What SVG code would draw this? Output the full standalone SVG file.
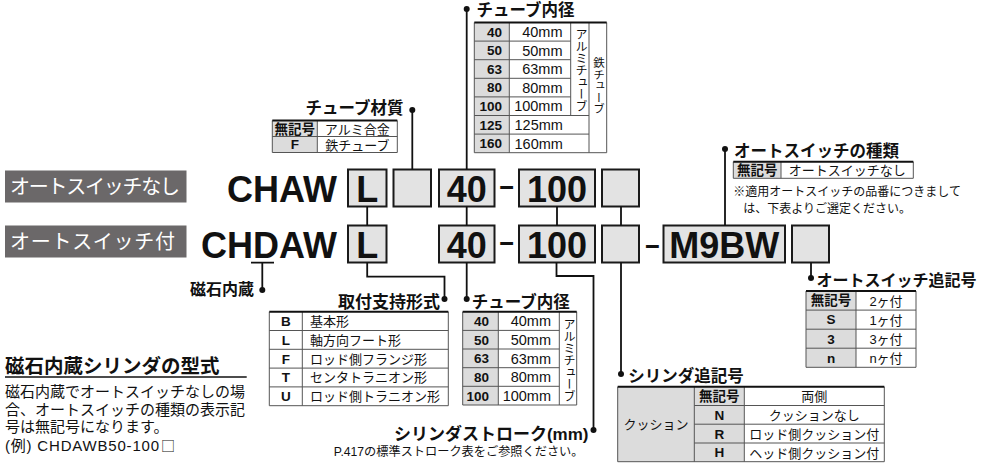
<svg xmlns="http://www.w3.org/2000/svg" width="985" height="464" viewBox="0 0 985 464">
<style>
text{font-family:"Liberation Sans","Noto Sans CJK JP",sans-serif;fill:#111}
.b{font-weight:bold}
.code{font-weight:bold;font-size:36px}
.ttl{font-weight:bold;font-size:16.5px}
.tc{font-weight:bold;font-size:13.5px}
.tv{font-size:13px}
.mm{font-size:14.5px}
.vt{writing-mode:vertical-rl;font-size:12px}
.box{fill:#e3e3e3;stroke:#1a1a1a;stroke-width:2}
.lbl{fill:#6b6869}
.wt{fill:#fff;font-size:20px}
.ln{fill:none;stroke:#111;stroke-width:1.8}
.th{stroke:#111;stroke-width:2}
.tl{stroke:#555;stroke-width:1;fill:none}
.g{fill:#dcdcdc}
.w{fill:#fff}
.dot{fill:#111}
.m{text-anchor:middle}
.e{text-anchor:end}
</style>

<!-- left labels -->
<g id="label-no-switch">
<rect class="lbl" x="5" y="170.5" width="181.5" height="32"/>
<text class="wt" x="10" y="193.8" textLength="170">オートスイッチなし</text>
</g>
<g id="label-with-switch">
<rect class="lbl" x="5" y="225.5" width="181.5" height="32"/>
<text class="wt" x="10" y="248.8" textLength="165">オートスイッチ付</text>
</g>

<!-- model codes -->
<g id="code-top">
<text class="code e" x="337" y="201.5">CHAW</text>
<rect class="box" x="348" y="169.5" width="38.5" height="37"/>
<text class="code m" x="367.2" y="201.5">L</text>
<rect class="box" x="393.5" y="169.5" width="37.5" height="37"/>
<rect class="box" x="439" y="169.5" width="55.5" height="37"/>
<text class="code m" x="466.7" y="201.5">40</text>
<text class="code m" transform="translate(506.7 194) scale(1.4 0.7)" x="0" y="0">-</text>
<rect class="box" x="519" y="169.5" width="76" height="37"/>
<text class="code m" x="557" y="201.5">100</text>
<rect class="box" x="602" y="169.5" width="37" height="37"/>
</g>
<g id="code-bottom">
<text class="code e" x="337" y="257.5">CHDAW</text>
<rect class="box" x="348" y="225.5" width="38.5" height="37"/>
<text class="code m" x="367.2" y="257.5">L</text>
<rect class="box" x="439" y="225.5" width="55.5" height="37"/>
<text class="code m" x="466.7" y="257.5">40</text>
<text class="code m" transform="translate(506.7 250) scale(1.4 0.7)" x="0" y="0">-</text>
<rect class="box" x="519" y="225.5" width="76" height="37"/>
<text class="code m" x="557" y="257.5">100</text>
<rect class="box" x="602" y="225.5" width="37" height="37"/>
<text class="code m" transform="translate(652.5 253) scale(1.4 0.7)" x="0" y="0">-</text>
<rect class="box" x="663.5" y="225.5" width="121.5" height="37"/>
<text class="code m" x="724.3" y="257.5">M9BW</text>
<rect class="box" x="792" y="225.5" width="37" height="37"/>
</g>

<!-- connectors -->
<g id="connectors">
<path class="ln" d="M412.3 110V169.5"/>
<path class="ln" d="M466.7 9V169.5"/>
<path class="ln" d="M367.2 206.5V225.5M466.7 206.5V225.5M557 206.5V225.5M621 206.5V225.5"/>
<path class="ln" d="M725 149V225.5"/>
<path class="ln" d="M811 262.5V278"/>
<path class="ln" d="M367.2 262.5V276.7H444.5V299"/>
<path class="ln" d="M466.7 262.5V299"/>
<path class="ln" d="M556.5 262.5V276H593.5V430"/>
<path class="ln" d="M621 262.5V374"/>
<path class="ln" d="M251 262.7H274M262.3 262.7V290"/>
<circle class="dot" cx="412.3" cy="110" r="3"/>
<circle class="dot" cx="466.7" cy="9" r="3"/>
<circle class="dot" cx="725" cy="149" r="3"/>
<circle class="dot" cx="811" cy="278" r="3"/>
<circle class="dot" cx="444.5" cy="299" r="3"/>
<circle class="dot" cx="466.7" cy="299" r="3"/>
<circle class="dot" cx="593.5" cy="430" r="3"/>
<circle class="dot" cx="621" cy="374" r="3"/>
<circle class="dot" cx="262.3" cy="290" r="3"/>
</g>

<!-- tube material -->
<g id="tube-material">
<text class="ttl e" x="403.5" y="113.8">チューブ材質</text>
<rect class="g" x="272.3" y="120.5" width="45" height="32"/>
<rect class="w" x="317.3" y="120.5" width="80" height="32"/>
<path class="tl" d="M272.3 120.5V152.5H397.3V120.5M272.3 136.5H397.3M317.3 120.5V152.5"/>
<path class="th" d="M272.3 120.5H397.3"/>
<text class="tc m" x="294.8" y="133.5">無記号</text>
<text class="tv m" x="357.3" y="133.5">アルミ合金</text>
<text class="tc m" x="294.8" y="149.3">F</text>
<text class="tv m" x="357.3" y="149.5">鉄チューブ</text>
</g>

<!-- tube bore (top) -->
<g id="tube-bore-top">
<text class="ttl" x="476.5" y="16">チューブ内径</text>
<rect class="g" x="474.3" y="22.5" width="35" height="130.2"/>
<rect class="w" x="509.3" y="22.5" width="97.4" height="130.2"/>
<path class="tl" d="M474.3 22.5V152.7H606.7V22.5M474.3 41.1H570.7M474.3 59.7H570.7M474.3 78.3H570.7M474.3 96.9H570.7M474.3 115.5H589M474.3 134.1H589M509.3 22.5V152.7M570.7 22.5V115.5M589 22.5V152.7"/>
<path class="th" d="M474.3 22.5H606.7"/>
<text class="tc e" x="502" y="36.6">40</text>
<text class="tc e" x="502" y="55.2">50</text>
<text class="tc e" x="502" y="73.8">63</text>
<text class="tc e" x="502" y="92.4">80</text>
<text class="tc e" x="502" y="111">100</text>
<text class="tc e" x="502" y="129.6">125</text>
<text class="tc e" x="502" y="148.2">160</text>
<text class="mm e" x="562.5" y="37">40mm</text>
<text class="mm e" x="562.5" y="55.6">50mm</text>
<text class="mm e" x="562.5" y="74.2">63mm</text>
<text class="mm e" x="562.5" y="92.8">80mm</text>
<text class="mm e" x="562.5" y="111.4">100mm</text>
<text class="mm" x="514.5" y="130">125mm</text>
<text class="mm" x="514.5" y="148.6">160mm</text>
<text class="vt" x="580" y="28">アルミチューブ</text>
<text class="vt" x="598" y="57" style="font-size:11.5px">鉄チューブ</text>
</g>

<!-- auto switch type -->
<g id="switch-type">
<text class="ttl" x="734" y="156.5">オートスイッチの種類</text>
<rect class="g" x="733.3" y="161.7" width="47.7" height="16.6"/>
<rect class="w" x="781" y="161.7" width="132.3" height="16.6"/>
<path class="tl" d="M733.3 161.7V178.3H913.3V161.7M781 161.7V178.3"/>
<path class="th" d="M733.3 161.7H913.3"/>
<text class="tc m" x="757.2" y="175">無記号</text>
<text class="tv m" x="847.2" y="175">オートスイッチなし</text>
<text x="733.3" y="196.3" style="font-size:12px">※適用オートスイッチの品番につきまして</text>
<text x="743.3" y="213" style="font-size:12px">は、下表よりご選定ください。</text>
</g>

<!-- auto switch suffix -->
<g id="switch-suffix">
<text class="ttl" x="816.5" y="285.5" style="font-size:16px">オートスイッチ追記号</text>
<rect class="g" x="806" y="291" width="50" height="76.3"/>
<rect class="w" x="856" y="291" width="60" height="76.3"/>
<path class="tl" d="M806 291V367.3H916V291M806 310.1H916M806 329.2H916M806 348.2H916M856 291V367.3"/>
<path class="th" d="M806 291H916"/>
<text class="tc m" x="831" y="305.3">無記号</text>
<text class="tc m" x="831" y="324.4">S</text>
<text class="tc m" x="831" y="343.5">3</text>
<text class="tc m" x="831" y="362.5">n</text>
<text class="tv m" x="886" y="305.5">2ヶ付</text>
<text class="tv m" x="886" y="324.6">1ヶ付</text>
<text class="tv m" x="886" y="343.7">3ヶ付</text>
<text class="tv m" x="886" y="362.7">nヶ付</text>
</g>

<!-- magnet built-in -->
<g id="magnet">
<text class="b" x="190" y="294.5" style="font-size:16px">磁石内蔵</text>
</g>

<!-- mounting -->
<g id="mounting">
<text class="ttl e" x="440" y="308" style="font-size:17px">取付支持形式</text>
<rect class="w" x="269.3" y="311.7" width="179" height="94"/>
<path class="tl" d="M269.3 311.7V405.7H448.3V311.7M269.3 330.5H448.3M269.3 349.3H448.3M269.3 368.1H448.3M269.3 386.9H448.3M302.3 311.7V405.7"/>
<path class="th" d="M269.3 311.7H448.3"/>
<text class="tc m" x="285.8" y="326">B</text>
<text class="tc m" x="285.8" y="344.8">L</text>
<text class="tc m" x="285.8" y="363.6">F</text>
<text class="tc m" x="285.8" y="382.4">T</text>
<text class="tc m" x="285.8" y="401.2">U</text>
<text class="tv" x="310" y="326">基本形</text>
<text class="tv" x="310" y="344.8">軸方向フート形</text>
<text class="tv" x="310" y="363.6">ロッド側フランジ形</text>
<text class="tv" x="310" y="382.4">センタトラニオン形</text>
<text class="tv" x="310" y="401.2">ロッド側トラニオン形</text>
</g>

<!-- tube bore (bottom) -->
<g id="tube-bore-bottom">
<text class="ttl" x="471.7" y="308">チューブ内径</text>
<rect class="g" x="462.7" y="311.7" width="35.6" height="93.3"/>
<rect class="w" x="498.3" y="311.7" width="78.4" height="93.3"/>
<path class="tl" d="M462.7 311.7V405H576.7V311.7M462.7 330.4H559.3M462.7 349H559.3M462.7 367.7H559.3M462.7 386.3H559.3M498.3 311.7V405M559.3 311.7V405"/>
<path class="th" d="M462.7 311.7H576.7"/>
<text class="tc e" x="489" y="325.8">40</text>
<text class="tc e" x="489" y="344.5">50</text>
<text class="tc e" x="489" y="363.2">63</text>
<text class="tc e" x="489" y="381.8">80</text>
<text class="tc e" x="489" y="400.5">100</text>
<text class="mm e" x="551" y="326.2">40mm</text>
<text class="mm e" x="551" y="344.9">50mm</text>
<text class="mm e" x="551" y="363.6">63mm</text>
<text class="mm e" x="551" y="382.2">80mm</text>
<text class="mm e" x="551" y="400.9">100mm</text>
<text class="vt" x="568" y="318">アルミチューブ</text>
</g>

<!-- stroke -->
<g id="stroke">
<text class="ttl e" x="588.5" y="440" style="font-size:17px">シリンダストローク(mm)</text>
<text class="e" x="583.5" y="456.3" style="font-size:12.2px">P.417の標準ストローク表をご参照ください。</text>
</g>

<!-- cylinder suffix -->
<g id="cylinder-suffix">
<text class="ttl" x="628.3" y="382">シリンダ追記号</text>
<rect class="g" x="617.7" y="386.7" width="126.6" height="75"/>
<rect class="w" x="744.3" y="386.7" width="140" height="75"/>
<path class="tl" d="M617.7 386.7V461.7H884.3V386.7M694.3 405.5H884.3M694.3 424.2H884.3M694.3 443H884.3M694.3 386.7V461.7M744.3 386.7V461.7"/>
<path class="th" d="M617.7 386.7H884.3"/>
<text class="tv m" x="656" y="429">クッション</text>
<text class="tc m" x="719.3" y="401">無記号</text>
<text class="tc m" x="719.3" y="419.8">N</text>
<text class="tc m" x="719.3" y="438.6">R</text>
<text class="tc m" x="719.3" y="457.3">H</text>
<text class="tv m" x="814.3" y="401.2">両側</text>
<text class="tv m" x="814.3" y="420">クッションなし</text>
<text class="tv m" x="814.3" y="438.8">ロッド側クッション付</text>
<text class="tv m" x="814.3" y="457.5">ヘッド側クッション付</text>
</g>

<!-- note -->
<g id="magnet-note">
<text class="b" x="5" y="372.5" style="font-size:19.5px">磁石内蔵シリンダの型式</text>
<path d="M5 377H246.7" stroke="#111" stroke-width="1.6"/>
<text x="5" y="396.5" style="font-size:15px">磁石内蔵でオートスイッチなしの場</text>
<text x="5" y="414.5" style="font-size:15px">合、オートスイッチの種類の表示記</text>
<text x="5" y="432" style="font-size:15px">号は無記号になります。</text>
<text x="5" y="450.5" style="font-size:15px" textLength="154">(例) CHDAWB50-100</text>
<text x="161" y="450.5" style="font-family:'Noto Sans CJK JP',sans-serif;font-size:14px">□</text>
</g>
</svg>
